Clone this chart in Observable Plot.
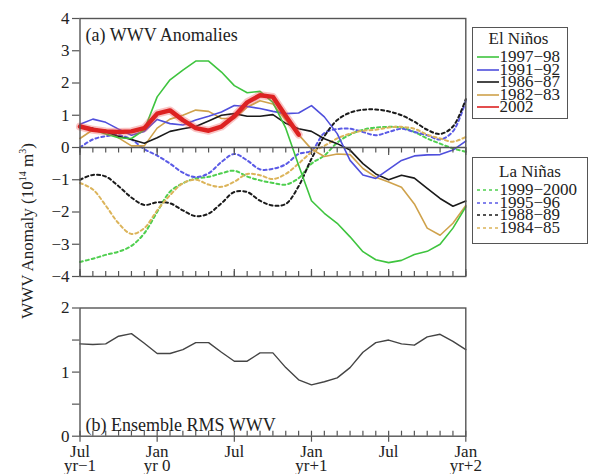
<!DOCTYPE html>
<html><head><meta charset="utf-8">
<script src="https://cdn.jsdelivr.net/npm/d3@7"></script>
<script src="https://cdn.jsdelivr.net/npm/@observablehq/plot@0.6"></script>
<style>
body{margin:0;background:#fff;}
#wrap{position:relative;width:593px;height:474px;overflow:hidden;font-family:"Liberation Serif",serif;color:#222;}
#wrap > svg{position:absolute;left:0;}
.box{position:absolute;border:1.5px solid #555;box-sizing:border-box;background:#fff;}
.ltxt{position:absolute;font-size:17px;line-height:12px;height:12px;white-space:nowrap;}
.ylab{position:absolute;font-size:17px;white-space:nowrap;transform:translate(-50%,-50%) rotate(-90deg);}
.ylab sup{font-size:10px;vertical-align:7px;line-height:0;}
</style></head>
<body><div id="wrap"></div>
<script>
// ---------- data ----------
const months = [0,1,2,3,4,5,6,7,8,9,10,11,12,13,14,15,16,17,18,19,20,21,22,23,24,25,26,27,28,29,30];
const majorMonths = [0,6,12,18,24,30];
const xTickLabels = ["Jul\nyr\u22121","Jan\nyr 0","Jul","Jan\nyr+1","Jul","Jan\nyr+2"];
const yTicksTop = [-4,-3,-2,-1,0,1,2,3,4];
const yTicksBottom = [0,0.5,1,1.5,2];

const elNinoNames = ["1997\u221298","1991\u221292","1986\u221287","1982\u221283","2002"];
const elNinoColors = ["#3ec43e","#4f4fdc","#1a1a1a","#cfa24c","#dd2222"];
const laNinaNames = ["1999\u22122000","1995\u221296","1988\u221289","1984\u221285"];
const laNinaColors = ["#4fcf4f","#5a5ae6","#1a1a1a","#dcb45a"];

const en1997 = [0.65,0.55,0.42,0.3,0.28,0.55,1.57,2.1,2.4,2.68,2.68,2.34,1.92,1.7,1.74,1.4,0.6,-0.55,-1.65,-2.04,-2.35,-2.77,-3.23,-3.48,-3.57,-3.5,-3.32,-3.22,-3.0,-2.5,-1.84];
const en1991 = [0.72,0.88,0.78,0.57,0.38,0.5,0.87,0.74,0.7,0.85,0.97,1.1,1.3,1.27,1.21,1.12,1.05,1.07,1.3,0.95,0.43,-0.4,-0.85,-0.96,-0.68,-0.4,-0.26,-0.23,-0.22,-0.08,0.2];
const en1986 = [0.65,0.6,0.48,0.35,0.25,0.13,0.3,0.5,0.58,0.65,0.82,1.0,1.05,0.97,0.97,1.02,0.75,0.58,0.5,0.27,0.12,-0.08,-0.5,-0.82,-1.0,-0.86,-0.95,-1.27,-1.58,-1.82,-1.66];
const en1982 = [0.28,0.55,0.55,0.3,0.05,0.05,0.6,0.88,1.0,1.16,1.12,0.9,0.9,1.25,1.45,1.35,0.85,0.4,-0.05,-0.28,-0.2,-0.22,-0.65,-0.92,-1.07,-1.23,-1.75,-2.5,-2.72,-2.35,-1.8];
const en2002 = [0.65,0.55,0.5,0.48,0.5,0.6,1.05,1.15,0.85,0.6,0.52,0.65,0.97,1.4,1.62,1.57,0.98,0.4];

const ln1999 = [-3.55,-3.45,-3.33,-3.23,-3.05,-2.66,-2.0,-1.37,-1.11,-0.96,-0.91,-0.8,-0.72,-0.9,-1.02,-1.1,-1.15,-0.95,-0.5,-0.25,0.15,0.4,0.55,0.62,0.64,0.62,0.48,0.28,0.12,-0.03,-0.13];
const ln1995 = [0.0,0.25,0.35,0.38,0.25,-0.05,-0.25,-0.5,-0.78,-0.92,-0.8,-0.45,-0.2,-0.4,-0.68,-0.66,-0.52,-0.2,-0.1,0.45,0.57,0.58,0.48,0.38,0.48,0.58,0.48,0.38,0.25,0.5,1.45];
const ln1988 = [-1.0,-0.85,-0.9,-1.2,-1.55,-1.78,-1.7,-1.73,-1.95,-2.13,-2.05,-1.73,-1.38,-1.38,-1.65,-1.8,-1.75,-1.2,-0.35,0.35,0.85,1.08,1.17,1.18,1.12,1.0,0.8,0.55,0.42,0.65,1.5];
const ln1984 = [-1.1,-1.3,-1.8,-2.35,-2.68,-2.5,-1.95,-1.48,-1.11,-1.0,-1.15,-1.22,-1.06,-0.82,-0.86,-0.98,-0.82,-0.5,-0.15,0.05,0.28,0.43,0.52,0.55,0.62,0.64,0.58,0.4,0.28,0.18,0.33];

const rmsWWV = [1.44,1.43,1.44,1.56,1.60,1.45,1.29,1.29,1.35,1.46,1.46,1.31,1.17,1.17,1.30,1.30,1.07,0.88,0.80,0.85,0.91,1.07,1.31,1.46,1.50,1.44,1.42,1.55,1.59,1.48,1.35];

// ---------- build ----------
const elNinoSeries = [en1997, en1991, en1986, en1982, en2002];
const laNinaSeries = [ln1999, ln1995, ln1988, ln1984];
const toRows = (vals) => vals.map((v, i) => ({month: months[i], value: v}));
const fmt = d => d < 0 ? "\u2212" + (-d) : String(d);

const W = 593, mL = 79.5, mR = 127.7;
const frameStroke = "#555";

const laMarks = laNinaSeries.map((s, k) => Plot.line(toRows(s), {x: "month", y: "value", stroke: laNinaColors[k], strokeWidth: 2, strokeDasharray: "3,3", curve: "catmull-rom"}));
const enOrder = [3, 2, 1, 0];
const enMarks = enOrder.map(k => Plot.line(toRows(elNinoSeries[k]), {x: "month", y: "value", stroke: elNinoColors[k], strokeWidth: 1.6}));
const redRows = toRows(en2002);

const topPlot = Plot.plot({
  width: W, height: 290, marginLeft: mL, marginRight: mR, marginTop: 18, marginBottom: 14,
  x: {domain: [0, 30], axis: null},
  y: {domain: [-4, 4], axis: null},
  style: {fontFamily: "Liberation Serif", fontSize: "17px", color: "#222", background: "transparent"},
  marks: [
    ...laMarks,
    ...enMarks,
    Plot.line(redRows, {x: "month", y: "value", stroke: "#ee5555", strokeOpacity: 0.35, strokeWidth: 8}),
    Plot.line(redRows, {x: "month", y: "value", stroke: elNinoColors[4], strokeWidth: 4.5}),
    Plot.ruleY([0], {stroke: frameStroke, strokeWidth: 1.4}),
    Plot.ruleX(months, {x: d => d, y1: () => 0, y2: () => 0, insetBottom: -5.5, stroke: frameStroke, strokeWidth: 1.2}),
    Plot.ruleX(majorMonths, {x: d => d, y1: () => 0, y2: () => 0, insetBottom: -8, stroke: frameStroke, strokeWidth: 1.2}),
    Plot.ruleX(months, {x: d => d, y1: () => -4, y2: () => -4, insetTop: -5, stroke: frameStroke, strokeWidth: 1.2}),
    Plot.ruleX(majorMonths, {x: d => d, y1: () => -4, y2: () => -4, insetTop: -7, stroke: frameStroke, strokeWidth: 1.2}),
    Plot.frame({stroke: frameStroke, strokeWidth: 1.4}),
    Plot.axisY(yTicksTop, {tickSize: 7.5, tickPadding: 3, tickFormat: fmt, stroke: frameStroke, fill: "#222", strokeWidth: 1.2, fontSize: 17, label: null}),
    Plot.text(["(a) WWV Anomalies"], {frameAnchor: "top-left", dx: 5.5, dy: 22, lineAnchor: "bottom", textAnchor: "start", fontSize: 18, fill: "#222"})
  ]
});
topPlot.style.top = "0px";

const bottomPlot = Plot.plot({
  width: W, height: 184, marginLeft: mL, marginRight: mR, marginTop: 17.5, marginBottom: 38.3,
  x: {domain: [0, 30], axis: null},
  y: {domain: [0, 2], axis: null},
  style: {fontFamily: "Liberation Serif", fontSize: "17px", color: "#222", background: "transparent", overflow: "visible"},
  marks: [
    Plot.line(toRows(rmsWWV), {x: "month", y: "value", stroke: "#444", strokeWidth: 1.4}),
    Plot.ruleX(months, {x: d => d, y1: () => 0, y2: () => 0, insetTop: -5, stroke: frameStroke, strokeWidth: 1.2}),
    Plot.ruleX(majorMonths, {x: d => d, y1: () => 0, y2: () => 0, insetBottom: -6, stroke: frameStroke, strokeWidth: 1.2}),
    Plot.frame({stroke: frameStroke, strokeWidth: 1.4}),
    Plot.axisY(yTicksBottom, {tickSize: 7.5, tickPadding: 3, tickFormat: d => Number.isInteger(d) ? fmt(d) : "", stroke: frameStroke, fill: "#222", strokeWidth: 1.2, fontSize: 17, label: null}),
    Plot.text(majorMonths, {x: d => d, text: (d, i) => xTickLabels[i], frameAnchor: "bottom", lineAnchor: "top", dy: 11.6, lineHeight: 0.8, fontSize: 17, fill: "#222"}),
    Plot.text(["(b) Ensemble RMS WWV"], {frameAnchor: "bottom-left", dx: 5.5, dy: -5.7, lineAnchor: "bottom", textAnchor: "start", fontSize: 18, fill: "#222"})
  ]
});
bottomPlot.style.top = "290px";

const wrap = document.getElementById("wrap");
wrap.appendChild(topPlot);
wrap.appendChild(bottomPlot);

// ---------- y-axis title ----------
const yl = document.createElement("div");
yl.className = "ylab";
yl.innerHTML = "WWV Anomaly (10<sup>14</sup> m<sup>3</sup>)";
yl.style.left = "28px"; yl.style.top = "231px";
wrap.appendChild(yl);

// ---------- legends ----------
function legend(title, names, colors, dashed, box, titleCx, titleCy, rowX, row0, rowStep) {
  const b = document.createElement("div");
  b.className = "box";
  Object.assign(b.style, {left: box[0] + "px", top: box[1] + "px", width: box[2] + "px", height: box[3] + "px"});
  wrap.appendChild(b);
  const t = document.createElement("div");
  t.className = "ltxt";
  t.textContent = title;
  Object.assign(t.style, {left: titleCx + "px", top: (titleCy - 6) + "px", transform: "translateX(-50%)"});
  wrap.appendChild(t);
  names.forEach((n, i) => {
    const cy = row0 + i * rowStep;
    const sw = document.createElementNS("http://www.w3.org/2000/svg", "svg");
    sw.setAttribute("width", 22); sw.setAttribute("height", 6);
    Object.assign(sw.style, {position: "absolute", left: (rowX - 23) + "px", top: (cy - 3) + "px"});
    const ln = document.createElementNS("http://www.w3.org/2000/svg", "line");
    ln.setAttribute("x1", 0); ln.setAttribute("x2", 22); ln.setAttribute("y1", 3); ln.setAttribute("y2", 3);
    ln.setAttribute("stroke", colors[i]); ln.setAttribute("stroke-width", 1.6);
    if (dashed) ln.setAttribute("stroke-dasharray", "3,3");
    sw.appendChild(ln);
    wrap.appendChild(sw);
    const tx = document.createElement("div");
    tx.className = "ltxt";
    tx.textContent = n;
    Object.assign(tx.style, {left: rowX + "px", top: (cy - 6) + "px"});
    wrap.appendChild(tx);
  });
}
legend("El Ni\u00f1os", elNinoNames, elNinoColors, false, [471.5, 26.5, 96.5, 92], 518.5, 39, 499.5, 57, 12.5);
legend("La Ni\u00f1as", laNinaNames, laNinaColors, true, [471.5, 156.5, 116.5, 87], 530, 172, 499.5, 190, 12.5);
</script>
</body></html>
